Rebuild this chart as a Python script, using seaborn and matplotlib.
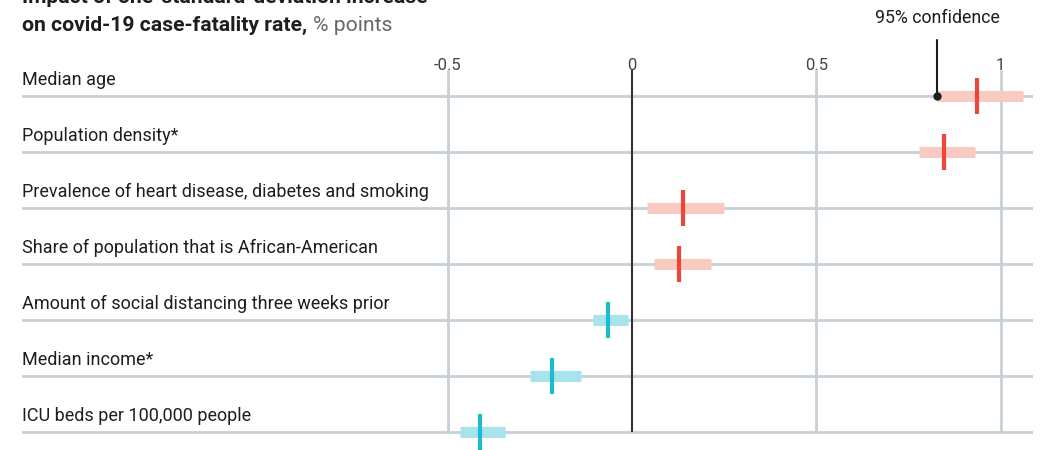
import matplotlib
matplotlib.use("Agg")
import matplotlib.pyplot as plt
import seaborn as sns
import pandas as pd

# ── Datos ────────────────────────────────────────────────────
factores = [
    "Median age",
    "Population density*",
    "Prevalence of heart disease, diabetes and smoking",
    "Share of population that is African-American",
    "Amount of social distancing three weeks prior",
    "Median income*",
    "ICU beds per 100,000 people",
]
estimacion = [0.936, 0.847, 0.138, 0.128, -0.065, -0.217, -0.412]
ic_bajo = [0.828, 0.779, 0.041, 0.060, -0.106, -0.277, -0.467]
ic_alto = [1.061, 0.931, 0.250, 0.214, -0.011, -0.138, -0.345]
ticks = [-0.5, 0, 0.5, 1]
tick_labels = ["-0.5", "0", "0.5", "1"]

df = pd.DataFrame({"factor": factores, "est": estimacion,
                   "lo": ic_bajo, "hi": ic_alto})
df["fila"] = range(len(df))
df["signo"] = ["pos" if v > 0 else "neg" for v in df["est"]]

# ── Estilo ───────────────────────────────────────────────────
sns.set_theme(style="white")
plt.rcParams["font.family"] = ["Roboto", "DejaVu Sans"]

ROJO, ROSA = "#ef4438", "#f9cbc0"
CIAN, CIAN_CLARO = "#1fbccd", "#a6e3ea"
GRIS = "#c6d0d6"
TEXTO = "#1e1e1e"

W, H = 1056, 450
fig = plt.figure(figsize=(W / 100, H / 100), dpi=100)
ax = fig.add_axes([22 / W, 0, 1011 / W, 380 / H])

x0_px, escala = 632, 368.5
ax.set_xlim((22 - x0_px) / escala, (1033 - x0_px) / escala)
ax.set_ylim((450 - 96) / 56, (70 - 96) / 56)

# líneas de referencia
for f in df["fila"]:
    ax.axhline(f, color=GRIS, lw=2, zorder=1)
for t in ticks:
    if t != 0:
        ax.vlines(t, (70 - 96) / 56, 6, color=GRIS, lw=2, zorder=1)
ax.vlines(0, (70 - 96) / 56, 6, color="#333333", lw=1.5, zorder=3)

# intervalos de confianza
for _, r in df.iterrows():
    c = ROSA if r["signo"] == "pos" else CIAN_CLARO
    ax.hlines(r["fila"], r["lo"], r["hi"], color=c, lw=8, zorder=2)

# estimaciones puntuales
sns.scatterplot(data=df, x="est", y="fila", hue="signo",
                palette={"pos": ROJO, "neg": CIAN}, marker="|",
                s=640, linewidth=3, legend=False, ax=ax, zorder=4)

# etiquetas de filas
for _, r in df.iterrows():
    ax.text(ax.get_xlim()[0], r["fila"] - 0.2, r["factor"], fontsize=13,
            color=TEXTO, va="baseline", ha="left")

ax.set_xticks(ticks)
ax.set_xticklabels(tick_labels)
ax.xaxis.tick_top()
ax.tick_params(axis="x", length=0, pad=-2, labelsize=12, labelcolor="#444444")
ax.set_yticks([])
ax.set_xlabel("")
ax.set_ylabel("")
for s in ax.spines.values():
    s.set_visible(False)

# anotación 95% confidence
ax.plot([ic_bajo[0], ic_bajo[0]], [(40 - 96) / 56, 0], color=TEXTO,
        lw=1.5, clip_on=False, zorder=5)
ax.plot(ic_bajo[0], 0, "o", color=TEXTO, ms=5, clip_on=False, zorder=5)
ax.text(ic_bajo[0], (23 - 96) / 56, "95% confidence", fontsize=12.8,
        ha="center", va="baseline", color=TEXTO)

# título
fig.text(22 / W, 1 - 3 / H, "Impact of one-standard-deviation increase",
         fontsize=15.2, fontweight="bold", color=TEXTO, va="baseline")
t1 = fig.text(22 / W, 1 - 31 / H, "on covid-19 case-fatality rate,",
              fontsize=15.2, fontweight="bold", color=TEXTO, va="baseline")
fig.canvas.draw()
bb = t1.get_window_extent()
fig.text((bb.x1 + 6) / W, 1 - 31 / H, "% points", fontsize=15.2,
         color="#666666", va="baseline")

plt.savefig("out.png", dpi=100)
